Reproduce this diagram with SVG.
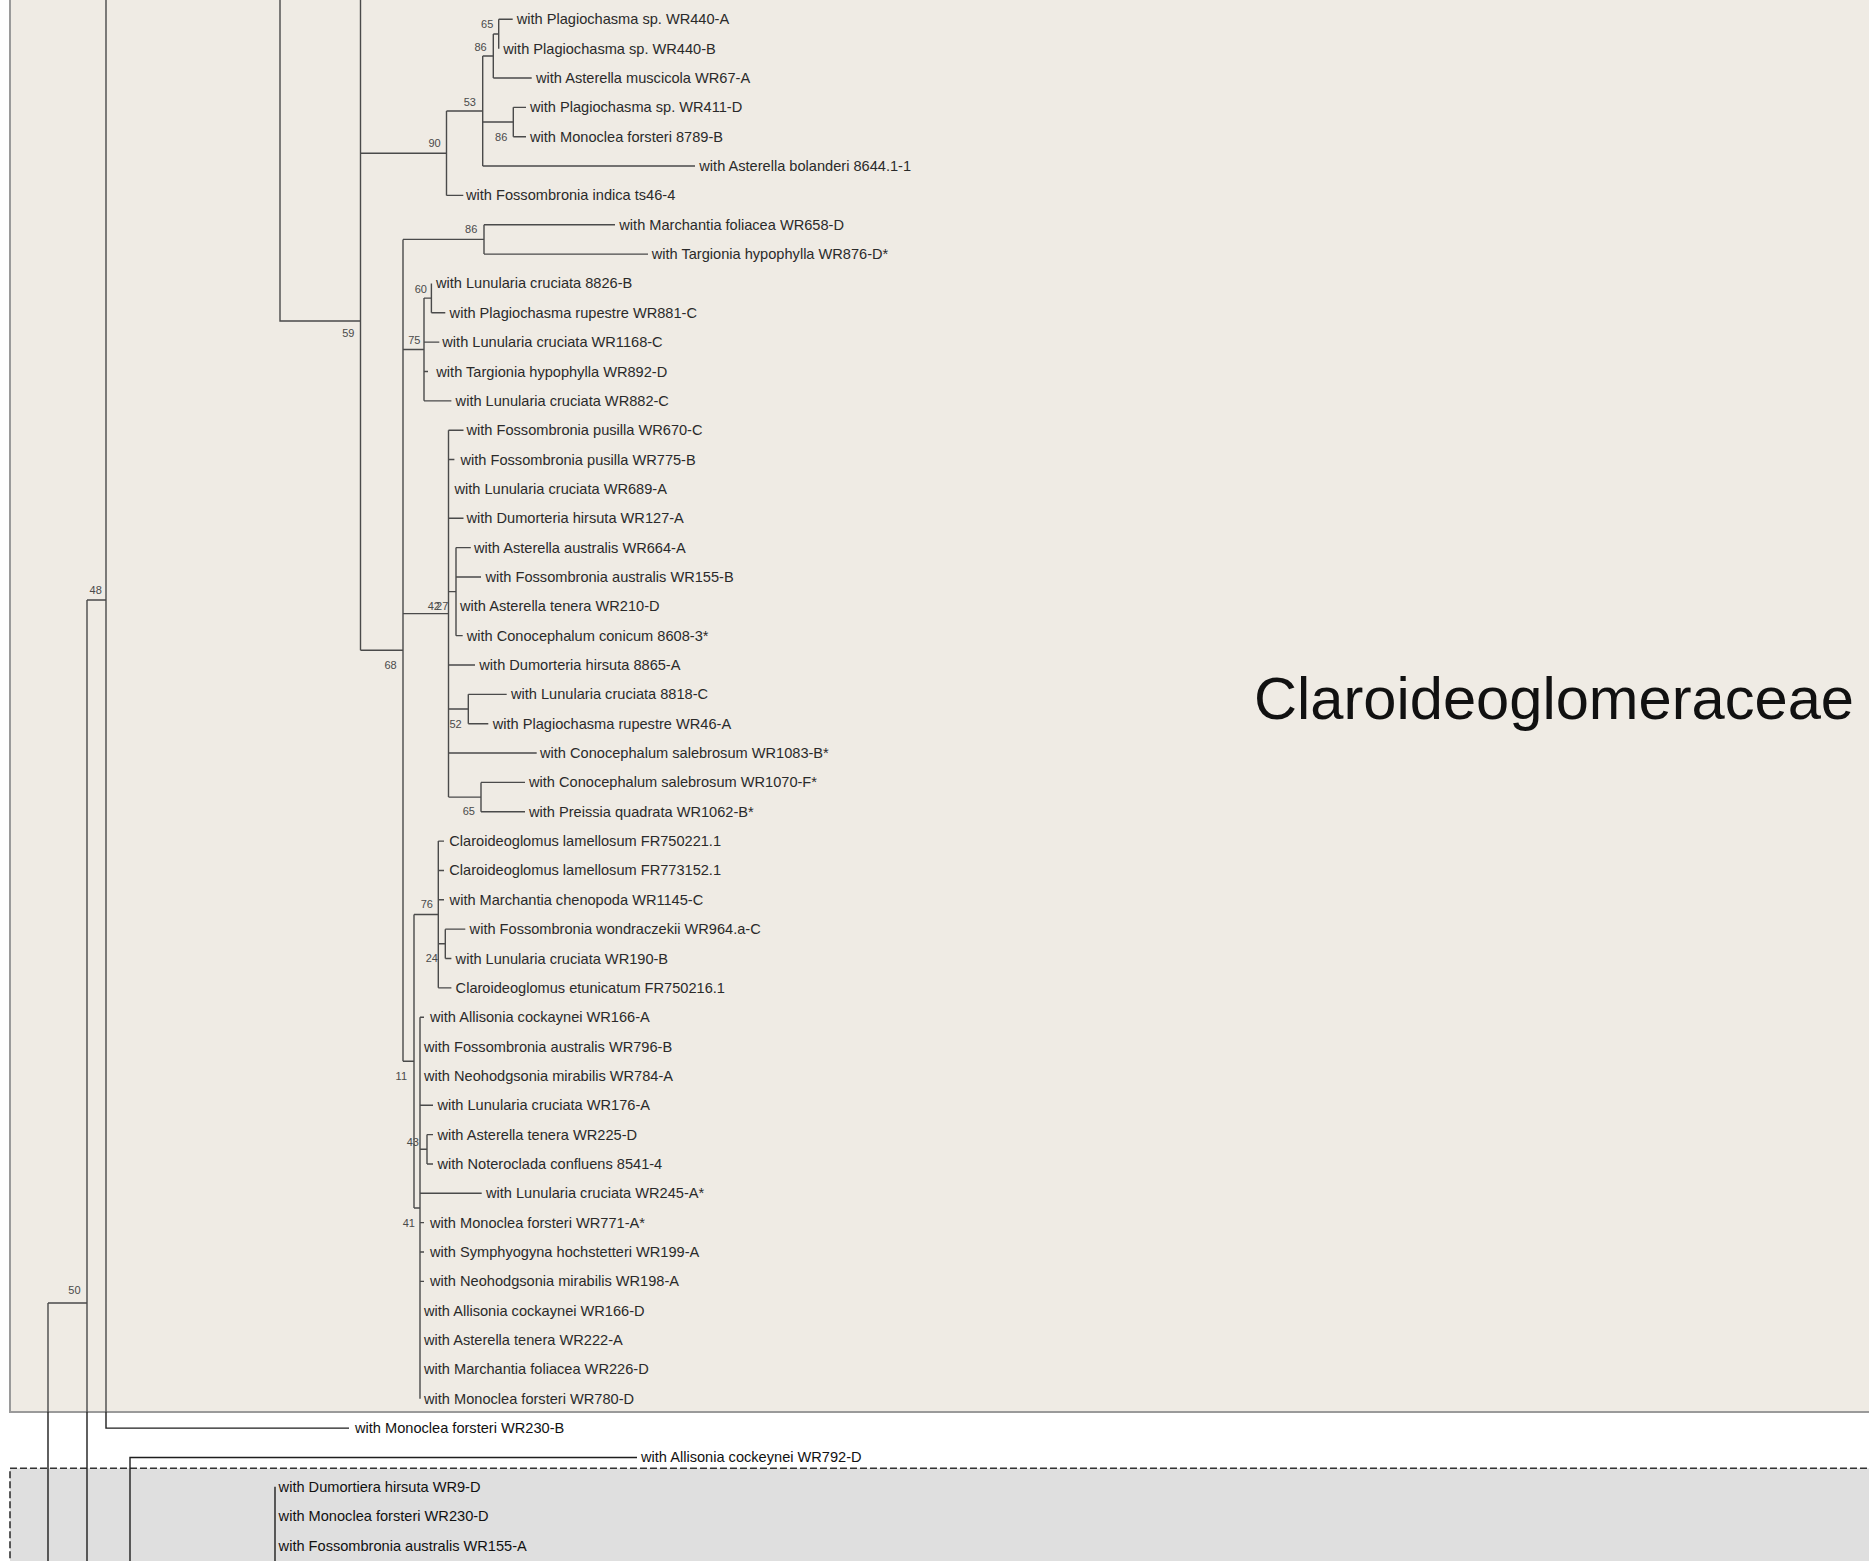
<svg xmlns="http://www.w3.org/2000/svg" width="1869" height="1561" viewBox="0 0 1869 1561">
<style>
.bg{fill:#ffffff}
.box1{fill:#efebe4;stroke:#9a9a9a;stroke-width:2}
.box2{fill:#dfdfdf;stroke:#333333;stroke-width:1.6;stroke-dasharray:7 3}
.ci{fill:none;stroke:#4a4a4a;stroke-width:1.4}
.co{fill:none;stroke:#1e1e1e;stroke-width:1.4}
.lf{font-family:"Liberation Sans",Arial,sans-serif;font-size:14.6px;fill:#2a2a2a}
.lo{font-family:"Liberation Sans",Arial,sans-serif;font-size:14.6px;fill:#111111}
.bs{font-family:"Liberation Sans",Arial,sans-serif;font-size:11px;fill:#4a4a4a;text-anchor:end}
.big{font-family:"Liberation Sans",Arial,sans-serif;font-size:60px;fill:#111111}
</style>
<rect class="bg" x="0" y="0" width="1869" height="1561"/>
<rect id="clade-box" class="box1" x="10" y="-10" width="1880" height="1422"/>
<rect id="outgroup-box" class="box2" x="10" y="1468.3" width="1880" height="200"/>
<g id="connectors">
<path class="ci" d="M106,-5V1412M87,600H106M87,600V1412M48,1303H87M48,1303V1412"/>
<path class="co" d="M106,1412V1428.1H349M87,1412V1570M48,1412V1570M130,1570V1457.45H637M275,1486.8V1570"/>
<path class="ci" d="M280,-5V321H360.5M360.5,-5V650.3M360.5,153.2H446.5M360.5,650.3H403"/>
<path class="ci" d="M446.5,111V195.4M446.5,195.4H463.3M446.5,111H482.7"/>
<path class="ci" d="M482.7,56V166.05M482.7,56H493.3M482.7,122H513.3M482.7,166.05H695"/>
<path class="ci" d="M493.3,34V78M493.3,34H498.7M493.3,78H531.7"/>
<path class="ci" d="M498.7,19.3V48.65M498.7,19.3H512.7"/>
<path class="ci" d="M513.3,107.35V136.7M513.3,107.35H526M513.3,136.7H526"/>
<path class="ci" d="M403,239.4V1061.2M403,239.4H484M403,349.5H424M403,613.6H448.5M403,1061.2H414"/>
<path class="ci" d="M484,224.75V254.1M484,224.75H615M484,254.1H648"/>
<path class="ci" d="M424,298.1V400.85M424,298.1H431.4M424,342.15H439.3M424,371.5H428M424,400.85H451.4"/>
<path class="ci" d="M431.4,283.45V312.8M431.4,312.8H445.3"/>
<path class="ci" d="M448.5,430.2V797.1M448.5,430.2H463.5M448.5,459.55H454.4M448.5,518.25H463.5M448.5,591.6H456M448.5,665H475M448.5,709H468.3M448.5,753.05H536.7M448.5,797.1H481"/>
<path class="ci" d="M456,547.6V635.65M456,547.6H470.8M456,576.95H481M456,635.65H462.7"/>
<path class="ci" d="M468.3,694.35V723.7M468.3,694.35H506.7M468.3,723.7H488.3"/>
<path class="ci" d="M481,782.4V811.75M481,782.4H525M481,811.75H525"/>
<path class="ci" d="M414,914.5V1208M414,914.5H438.3M414,1208H420"/>
<path class="ci" d="M438.3,841.1V987.85M438.3,841.1H444M438.3,870.45H444M438.3,899.8H444M438.3,943.8H445.3M438.3,987.85H451.4"/>
<path class="ci" d="M445.3,929.15V958.5M445.3,929.15H465.3M445.3,958.5H451.4"/>
<path class="ci" d="M420,1017.2V1398.75M420,1017.2H424M420,1105.25H433M420,1149.3H427M420,1193.3H481.7M420,1222.65H424M420,1252H424M420,1281.35H424"/>
<path class="ci" d="M427,1134.6V1163.95M427,1134.6H433M427,1163.95H433"/>
</g>
<g id="support-values">
<g id="n65a"><text class="bs" x="493.3" y="28.1">65</text></g>
<g id="n86a"><text class="bs" x="486.7" y="50.5">86</text></g>
<g id="n53"><text class="bs" x="476" y="105.5">53</text></g>
<g id="n86b"><text class="bs" x="507.3" y="140.5">86</text></g>
<g id="n90"><text class="bs" x="440.7" y="146.8">90</text></g>
<g id="n86c"><text class="bs" x="477.3" y="233.1">86</text></g>
<g id="n60"><text class="bs" x="427" y="293.1">60</text></g>
<g id="n75"><text class="bs" x="420.5" y="343.8">75</text></g>
<g id="n59"><text class="bs" x="354.5" y="336.8">59</text></g>
<g id="n42"><text class="bs" x="440" y="609.5">42</text></g>
<g id="n27"><text class="bs" x="448.3" y="609.5">27</text></g>
<g id="n68"><text class="bs" x="396.7" y="668.8">68</text></g>
<g id="n52"><text class="bs" x="461.7" y="727.8">52</text></g>
<g id="n65b"><text class="bs" x="475" y="814.5">65</text></g>
<g id="n76"><text class="bs" x="433" y="908.1">76</text></g>
<g id="n24"><text class="bs" x="438" y="962.1">24</text></g>
<g id="n11"><text class="bs" x="407" y="1079.8">11</text></g>
<g id="n43"><text class="bs" x="419" y="1145.5">43</text></g>
<g id="n41"><text class="bs" x="415" y="1226.5">41</text></g>
<g id="n48"><text class="bs" x="101.8" y="593.8">48</text></g>
<g id="n50"><text class="bs" x="80.6" y="1293.8">50</text></g>
</g>
<g id="leaves">
<g id="leaf0"><text class="lf" x="516.7" y="24.3">with Plagiochasma sp. WR440-A</text></g>
<g id="leaf1"><text class="lf" x="503.3" y="53.65">with Plagiochasma sp. WR440-B</text></g>
<g id="leaf2"><text class="lf" x="536" y="83">with Asterella muscicola WR67-A</text></g>
<g id="leaf3"><text class="lf" x="530" y="112.35">with Plagiochasma sp. WR411-D</text></g>
<g id="leaf4"><text class="lf" x="530" y="141.7">with Monoclea forsteri 8789-B</text></g>
<g id="leaf5"><text class="lf" x="699.3" y="171.05">with Asterella bolanderi 8644.1-1</text></g>
<g id="leaf6"><text class="lf" x="466" y="200.4">with Fossombronia indica ts46-4</text></g>
<g id="leaf7"><text class="lf" x="619.3" y="229.75">with Marchantia foliacea WR658-D</text></g>
<g id="leaf8"><text class="lf" x="651.7" y="259.1">with Targionia hypophylla WR876-D*</text></g>
<g id="leaf9"><text class="lf" x="436" y="288.45">with Lunularia cruciata 8826-B</text></g>
<g id="leaf10"><text class="lf" x="449.6" y="317.8">with Plagiochasma rupestre WR881-C</text></g>
<g id="leaf11"><text class="lf" x="442.3" y="347.15">with Lunularia cruciata WR1168-C</text></g>
<g id="leaf12"><text class="lf" x="436.3" y="376.5">with Targionia hypophylla WR892-D</text></g>
<g id="leaf13"><text class="lf" x="455.6" y="405.85">with Lunularia cruciata WR882-C</text></g>
<g id="leaf14"><text class="lf" x="466.5" y="435.2">with Fossombronia pusilla WR670-C</text></g>
<g id="leaf15"><text class="lf" x="460.5" y="464.55">with Fossombronia pusilla WR775-B</text></g>
<g id="leaf16"><text class="lf" x="454.4" y="493.9">with Lunularia cruciata WR689-A</text></g>
<g id="leaf17"><text class="lf" x="466.5" y="523.25">with Dumorteria hirsuta WR127-A</text></g>
<g id="leaf18"><text class="lf" x="474" y="552.6">with Asterella australis WR664-A</text></g>
<g id="leaf19"><text class="lf" x="485.5" y="581.95">with Fossombronia australis WR155-B</text></g>
<g id="leaf20"><text class="lf" x="460" y="611.3">with Asterella tenera WR210-D</text></g>
<g id="leaf21"><text class="lf" x="466.7" y="640.65">with Conocephalum conicum 8608-3*</text></g>
<g id="leaf22"><text class="lf" x="479.3" y="670">with Dumorteria hirsuta 8865-A</text></g>
<g id="leaf23"><text class="lf" x="511" y="699.35">with Lunularia cruciata 8818-C</text></g>
<g id="leaf24"><text class="lf" x="492.7" y="728.7">with Plagiochasma rupestre WR46-A</text></g>
<g id="leaf25"><text class="lf" x="540" y="758.05">with Conocephalum salebrosum WR1083-B*</text></g>
<g id="leaf26"><text class="lf" x="529" y="787.4">with Conocephalum salebrosum WR1070-F*</text></g>
<g id="leaf27"><text class="lf" x="529" y="816.75">with Preissia quadrata WR1062-B*</text></g>
<g id="leaf28"><text class="lf" x="449.3" y="846.1">Claroideoglomus lamellosum FR750221.1</text></g>
<g id="leaf29"><text class="lf" x="449.3" y="875.45">Claroideoglomus lamellosum FR773152.1</text></g>
<g id="leaf30"><text class="lf" x="449.6" y="904.8">with Marchantia chenopoda WR1145-C</text></g>
<g id="leaf31"><text class="lf" x="469.6" y="934.15">with Fossombronia wondraczekii WR964.a-C</text></g>
<g id="leaf32"><text class="lf" x="455.6" y="963.5">with Lunularia cruciata WR190-B</text></g>
<g id="leaf33"><text class="lf" x="455.6" y="992.85">Claroideoglomus etunicatum FR750216.1</text></g>
<g id="leaf34"><text class="lf" x="430" y="1022.2">with Allisonia cockaynei WR166-A</text></g>
<g id="leaf35"><text class="lf" x="424" y="1051.55">with Fossombronia australis WR796-B</text></g>
<g id="leaf36"><text class="lf" x="424" y="1080.9">with Neohodgsonia mirabilis WR784-A</text></g>
<g id="leaf37"><text class="lf" x="437.5" y="1110.25">with Lunularia cruciata WR176-A</text></g>
<g id="leaf38"><text class="lf" x="437.5" y="1139.6">with Asterella tenera WR225-D</text></g>
<g id="leaf39"><text class="lf" x="437.5" y="1168.95">with Noteroclada confluens 8541-4</text></g>
<g id="leaf40"><text class="lf" x="486" y="1198.3">with Lunularia cruciata WR245-A*</text></g>
<g id="leaf41"><text class="lf" x="430" y="1227.65">with Monoclea forsteri WR771-A*</text></g>
<g id="leaf42"><text class="lf" x="430" y="1257">with Symphyogyna hochstetteri WR199-A</text></g>
<g id="leaf43"><text class="lf" x="430" y="1286.35">with Neohodgsonia mirabilis WR198-A</text></g>
<g id="leaf44"><text class="lf" x="424" y="1315.7">with Allisonia cockaynei WR166-D</text></g>
<g id="leaf45"><text class="lf" x="424" y="1345.05">with Asterella tenera WR222-A</text></g>
<g id="leaf46"><text class="lf" x="424" y="1374.4">with Marchantia foliacea WR226-D</text></g>
<g id="leaf47"><text class="lf" x="424" y="1403.75">with Monoclea forsteri WR780-D</text></g>
<g id="leaf48"><text class="lo" x="355" y="1433.1">with Monoclea forsteri WR230-B</text></g>
<g id="leaf49"><text class="lo" x="641" y="1462.45">with Allisonia cockeynei WR792-D</text></g>
<g id="leaf50"><text class="lo" x="278.6" y="1491.8">with Dumortiera hirsuta WR9-D</text></g>
<g id="leaf51"><text class="lo" x="278.6" y="1521.15">with Monoclea forsteri WR230-D</text></g>
<g id="leaf52"><text class="lo" x="278.6" y="1550.5">with Fossombronia australis WR155-A</text></g>
</g>
<g id="clade-label"><text class="big" x="1254" y="719" textLength="600" lengthAdjust="spacingAndGlyphs">Claroideoglomeraceae</text></g>
</svg>
